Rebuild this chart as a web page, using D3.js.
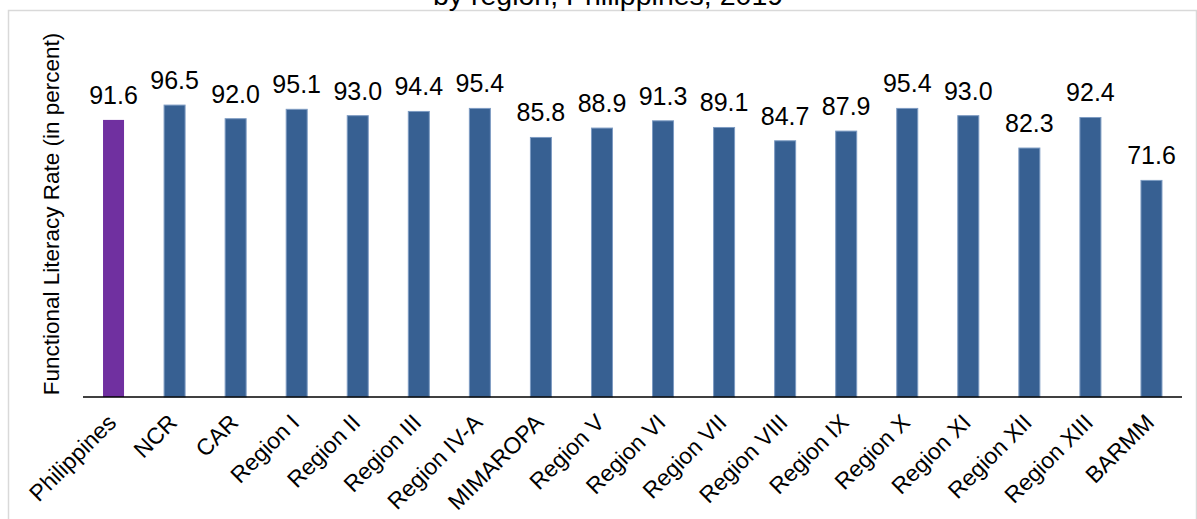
<!DOCTYPE html>
<html>
<head>
<meta charset="utf-8">
<script src="https://cdn.jsdelivr.net/npm/d3@7"></script>
<style>
  html, body { margin: 0; padding: 0; background: #fff; }
  svg { display: block; font-family: Arial, "Liberation Sans", sans-serif; }
</style>
</head>
<body>
<svg id="chart" width="1197" height="519"></svg>
<script>
const categories = ["Philippines","NCR","CAR","Region I","Region II","Region III","Region IV-A","MIMAROPA","Region V","Region VI","Region VII","Region VIII","Region IX","Region X","Region XI","Region XII","Region XIII","BARMM"];
const values = [91.6,96.5,92.0,95.1,93.0,94.4,95.4,85.8,88.9,91.3,89.1,84.7,87.9,95.4,93.0,82.3,92.4,71.6];
const titleText = "by region, Philippines, 2019";
const yTitle = "Functional Literacy Rate (in percent)";

const svg = d3.select("#chart");
const axisY = 397;

// chart area border
svg.append("rect").attr("x", 8.5).attr("y", 10.5).attr("width", 1188).attr("height", 530)
  .attr("fill", "none").attr("stroke", "#d9d9d9").attr("stroke-width", 1.5);

// title (partially cut at top, as in the reference)
svg.append("text").attr("x", 608).attr("y", 5).attr("text-anchor", "middle")
  .attr("font-size", 28.5).attr("fill", "#000").text(titleText);

const x = d3.scaleBand().domain(categories).range([83, 1182]).paddingInner(0.656).paddingOuter(0.328);
const y = d3.scaleLinear().domain([0, 100]).range([axisY, axisY - 302.5]);

const data = categories.map((c, i) => ({c, v: values[i]}));

svg.append("g").selectAll("rect").data(data).join("rect")
  .attr("x", d => x(d.c)).attr("y", d => y(d.v))
  .attr("width", x.bandwidth()).attr("height", d => y(0) - y(d.v))
  .attr("fill", (d, i) => i === 0 ? "#7030a0" : "#376092")
  .attr("stroke", (d, i) => i === 0 ? "none" : "#7d9bc2")
  .attr("stroke-width", 1);

svg.append("g").selectAll("text").data(data).join("text")
  .attr("x", d => x(d.c) + x.bandwidth() / 2).attr("y", d => y(d.v) - 16)
  .attr("text-anchor", "middle").attr("font-size", 25).attr("fill", "#000")
  .text(d => d.v.toFixed(1));

// x axis
const xAxis = svg.append("g").attr("transform", `translate(0,${axisY})`)
  .call(d3.axisBottom(x).tickSize(0).tickPadding(0));
xAxis.select(".domain").attr("d", "M83,0H1182").attr("stroke", "#000").attr("stroke-width", 1.5);
xAxis.selectAll(".tick text")
  .attr("font-size", 23).attr("fill", "#000")
  .attr("text-anchor", "end")
  .attr("dy", 0).attr("y", 0)
  .attr("transform", "translate(4,27) rotate(-45)");

// y title
svg.append("text").attr("transform", "translate(59,214) rotate(-90)")
  .attr("text-anchor", "middle").attr("font-size", 22.5).attr("fill", "#000")
  .text(yTitle);
</script>
</body>
</html>
